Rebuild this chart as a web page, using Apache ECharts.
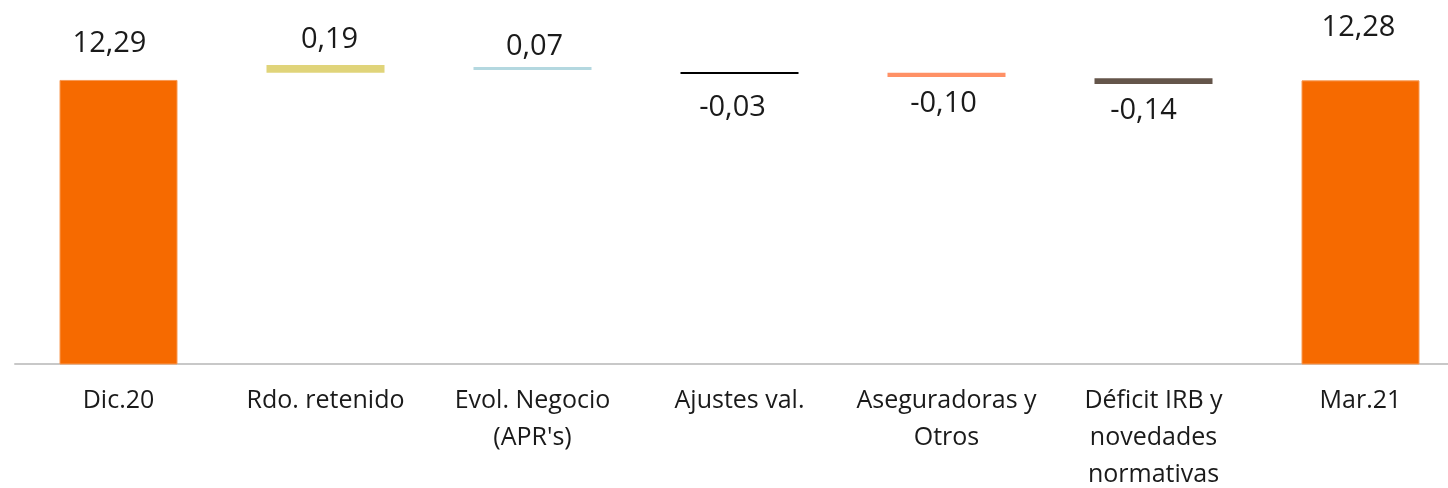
<!DOCTYPE html>
<html>
<head>
<meta charset="utf-8">
<script src="https://cdn.jsdelivr.net/npm/echarts@6/dist/echarts.min.js"></script>
<style>
  html, body { margin: 0; padding: 0; background: #fff; }
  #chart { width: 1448px; height: 488px; }
</style>
</head>
<body>
<div id="chart"></div>
<script>
const categories = [
  "Dic.20",
  "Rdo. retenido",
  "Evol. Negocio\n(APR's)",
  "Ajustes val.",
  "Aseguradoras y\nOtros",
  "Déficit IRB y\nnovedades\nnormativas",
  "Mar.21",
];
// signed values shown in the labels
const values = [12.29, 0.19, 0.07, -0.03, -0.1, -0.14, 12.28];
// bottom of each floating bar (totals start at the axis)
const floatBase = [0, 12.46, 12.53, 12.43, 12.36, 12.19, 0];
const barColors = ["#f66a00", "#e0d47a", "#b4d8e0", "#000000", "#ff9166", "#64554a", "#f66a00"];

// label placement tweaks (distance from bar edge, x shift)
const labelDist = [21.5, 10.5, 5.5, 19.5, 12, 12.5, 38.5];
const labelShiftX = [-9, 4, 2, -7, -3, -10, -2];

const chart = echarts.init(document.getElementById("chart"));

const fmt = (v) => v.toFixed(2).replace(".", ",");

const visibleData = values.map((v, i) => ({
  value: Math.abs(v),
  itemStyle: {
    color: barColors[i],
    borderColor: i === 0 || i === values.length - 1 ? "#f89a55" : barColors[i],
    borderWidth: i === 0 || i === values.length - 1 ? 1 : 0,
  },
  label: {
    position: v < 0 ? "bottom" : "top",
    distance: labelDist[i],
    offset: [labelShiftX[i], 0],
  },
}));

const option = {
  animation: false,
  // the last category slot runs a little past the right edge
  grid: { left: 15, width: 1449, top: 8.4, bottom: 124, outerBoundsMode: "none", containLabel: false },
  xAxis: {
    type: "category",
    data: categories,
    axisLine: { onZero: false, lineStyle: { color: "#c8c8c8", width: 2 } },
    axisTick: { show: false },
    axisLabel: {
      interval: 0,
      margin: 18,
      color: "#1a1a1a",
      fontFamily: "Open Sans",
      fontSize: 25,
      lineHeight: 37,
    },
  },
  yAxis: {
    type: "value",
    min: 5.5,
    max: 14,
    show: false,
    splitLine: { show: false },
  },
  series: [
    {
      name: "base",
      type: "bar",
      stack: "wf",
      barWidth: 118,
      data: floatBase,
      itemStyle: { color: "transparent" },
      silent: true,
    },
    {
      name: "delta",
      type: "bar",
      stack: "wf",
      barWidth: 118,
      barMinHeight: 2,
      data: visibleData,
      label: {
        show: true,
        color: "#1a1a1a",
        fontFamily: "Open Sans",
        fontSize: 29,
        formatter: (p) => fmt(values[p.dataIndex]),
      },
    },
  ],
};

chart.setOption(option);
</script>
</body>
</html>
